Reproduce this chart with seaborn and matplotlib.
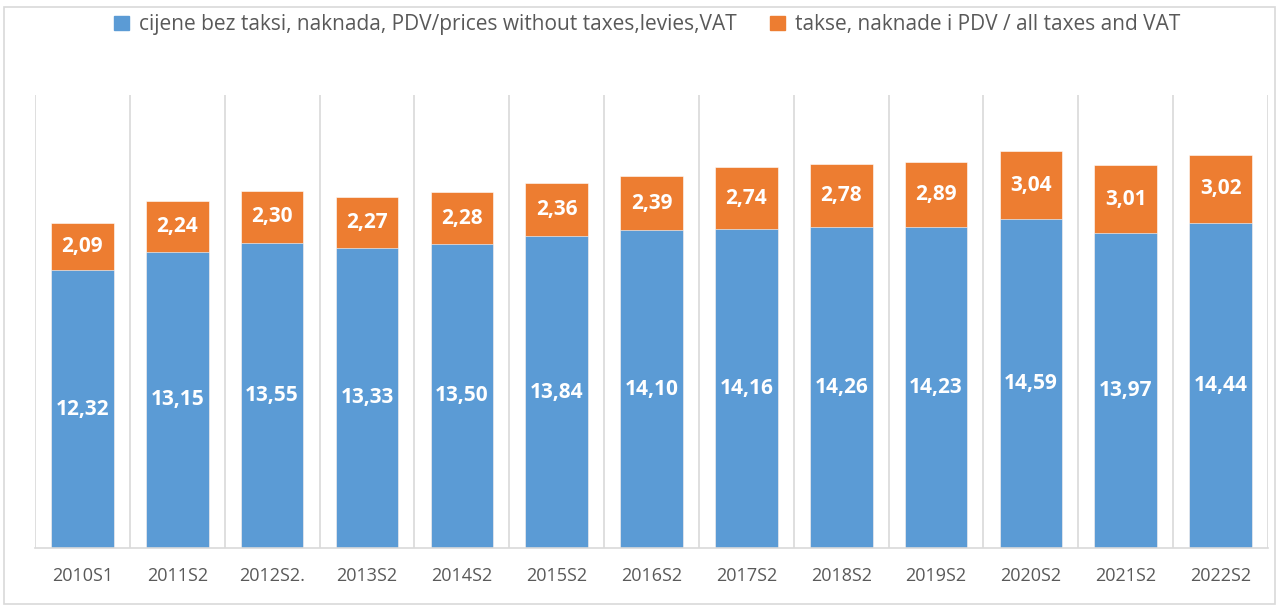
import matplotlib
matplotlib.use('Agg')
import matplotlib.pyplot as plt
from matplotlib.patches import Patch, Rectangle
import seaborn as sns

# podaci
periods = ['2010S1', '2011S2', '2012S2.', '2013S2', '2014S2', '2015S2', '2016S2',
           '2017S2', '2018S2', '2019S2', '2020S2', '2021S2', '2022S2']
prices_no_tax = [12.32, 13.15, 13.55, 13.33, 13.50, 13.84, 14.10,
                 14.16, 14.26, 14.23, 14.59, 13.97, 14.44]
taxes = [2.09, 2.24, 2.30, 2.27, 2.28, 2.36, 2.39,
         2.74, 2.78, 2.89, 3.04, 3.01, 3.02]
series_names = ['cijene bez taksi, naknada, PDV/prices without taxes,levies,VAT',
                'takse, naknade i PDV / all taxes and VAT']

blue = '#5B9BD5'
orange = '#ED7D31'
grid = '#D9D9D9'
txt = '#595959'

sns.set_style('white')
plt.rcParams['font.family'] = ['Open Sans', 'DejaVu Sans']

totals = [a + b for a, b in zip(prices_no_tax, taxes)]

fig = plt.figure(figsize=(12.79, 6.06), dpi=100)
ax = fig.add_axes([0.0274, 0.0957, 0.9640, 0.7473])

# orange = ukupno, plavo preko njega
sns.barplot(x=periods, y=totals, color=orange, width=0.66, saturation=1,
            edgecolor='white', linewidth=0.4, ax=ax)
sns.barplot(x=periods, y=prices_no_tax, color=blue, width=0.66, saturation=1,
            edgecolor='white', linewidth=0.4, ax=ax)

fmt = lambda v: f'{v:.2f}'.replace('.', ',')
for i, (b, t) in enumerate(zip(prices_no_tax, taxes)):
    ax.text(i, b / 2, fmt(b), ha='center', va='center', color='white',
            fontsize=15, fontweight='bold')
    ax.text(i, b + t / 2, fmt(t), ha='center', va='center', color='white',
            fontsize=15, fontweight='bold')

ax.set_ylim(0, 20.1)
ax.set_xlim(-0.5, len(periods) - 0.5)
for k in range(len(periods) + 1):
    ax.axvline(k - 0.5, color=grid, lw=1.2, zorder=0)
ax.set_yticks([])
for s in ['top', 'right', 'left']:
    ax.spines[s].set_visible(False)
ax.spines['bottom'].set_color(grid)
ax.spines['bottom'].set_linewidth(1.2)
ax.tick_params(axis='x', length=0, pad=14, labelsize=13, labelcolor=txt)
ax.set_xlabel('')

handles = [Patch(color=blue, label=series_names[0]),
           Patch(color=orange, label=series_names[1])]
fig.legend(handles=handles, loc='center', bbox_to_anchor=(0.506, 0.959), ncol=2,
           frameon=False, fontsize=15, labelcolor=txt, handlelength=0.7,
           handleheight=0.7, handletextpad=0.5, columnspacing=1.6)

fig.patches.append(Rectangle((0.003, 0.004), 0.994, 0.985, transform=fig.transFigure,
                             fill=False, edgecolor=grid, lw=1.2))

plt.savefig('out.png', dpi=100)
